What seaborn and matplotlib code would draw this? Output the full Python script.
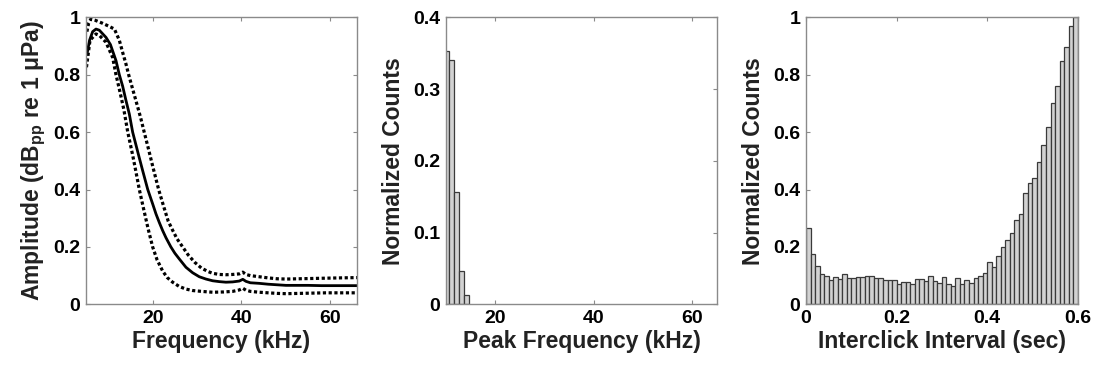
import numpy as np
import pandas as pd
import matplotlib
matplotlib.use("Agg")
import matplotlib.pyplot as plt
import seaborn as sns

# ---------------- data ----------------
# Panel 1: spectrum (mean and +/- bounds)
freq_mean = [5.2, 5.8, 6.5, 7.25, 8.0, 9.5, 10.5, 11.75, 12.5, 13.25, 14.0, 14.75, 15.5, 16.25,
             17.0, 17.75, 18.9, 20.0, 20.75, 21.5, 22.25, 23.0, 24.1, 25.0, 26.0, 27.5, 29.0,
             30.5, 32.0, 33.5, 35.0, 36.5, 38.0, 39.5, 40.3, 41.0, 42.0, 44.0, 46.0, 48.0, 50.0,
             52.0, 55.0, 58.0, 61.0, 64.0, 66.0]
amp_mean = [0.87, 0.92, 0.95, 0.959, 0.955, 0.93, 0.905, 0.849, 0.80, 0.76, 0.71, 0.663, 0.60,
            0.555, 0.51, 0.466, 0.40, 0.35, 0.315, 0.285, 0.257, 0.232, 0.20, 0.178, 0.158, 0.129,
            0.110, 0.096, 0.088, 0.082, 0.079, 0.077, 0.078, 0.081, 0.087, 0.080, 0.075, 0.073,
            0.070, 0.068, 0.066, 0.066, 0.066, 0.065, 0.065, 0.065, 0.065]

freq_upper = [5.2, 5.6, 6.1, 7.0, 8.75, 10.0, 11.4, 12.5, 13.3, 14.0, 14.6, 15.5, 16.5, 17.3,
              18.1, 19.0, 20.0, 21.35, 22.5, 23.5, 24.5, 25.5, 26.75, 28.0, 29.5, 31.0, 32.5,
              33.5, 35.0, 36.5, 38.0, 39.5, 40.3, 41.0, 42.0, 44.0, 46.0, 48.0, 50.0, 53.0, 56.0,
              59.0, 62.0, 66.0]
amp_upper = [0.95, 0.98, 0.994, 0.99, 0.979, 0.97, 0.959, 0.92, 0.875, 0.837, 0.80, 0.75, 0.695,
             0.65, 0.60, 0.545, 0.482, 0.40, 0.34, 0.29, 0.258, 0.228, 0.20, 0.172, 0.146, 0.126,
             0.114, 0.108, 0.104, 0.103, 0.104, 0.106, 0.112, 0.104, 0.100, 0.096, 0.092, 0.089,
             0.088, 0.089, 0.090, 0.091, 0.092, 0.093]

freq_lower = [5.1, 5.9, 7.25, 8.0, 9.5, 11.0, 11.75, 12.5, 13.5, 14.4, 15.5, 16.2, 17.0, 18.0,
              19.0, 20.0, 21.0, 22.25, 23.3, 24.5, 26.0, 27.5, 29.0, 31.0, 33.5, 36.0, 38.0, 39.5,
              40.3, 41.0, 42.0, 44.0, 46.0, 48.0, 50.0, 53.0, 56.0, 59.0, 62.0, 66.0]
amp_lower = [0.826, 0.92, 0.942, 0.937, 0.913, 0.86, 0.80, 0.75, 0.68, 0.60, 0.52, 0.465, 0.40,
             0.33, 0.262, 0.20, 0.155, 0.116, 0.093, 0.077, 0.062, 0.053, 0.048, 0.045, 0.042,
             0.043, 0.045, 0.050, 0.056, 0.049, 0.045, 0.042, 0.040, 0.038, 0.037, 0.038, 0.039,
             0.040, 0.040, 0.040]

# Panel 2: peak frequency histogram
peak_edges = [9.7, 10.7, 11.7, 12.7, 13.7, 14.7]
peak_counts = [0.3535, 0.3405, 0.157, 0.0465, 0.013]

# Panel 3: interclick interval histogram (60 bins, 0..0.6 s)
ici_counts = [0.267, 0.177, 0.134, 0.106, 0.099, 0.085, 0.094, 0.087, 0.105, 0.090,
              0.090, 0.094, 0.094, 0.098, 0.099, 0.092, 0.091, 0.085, 0.083, 0.085,
              0.072, 0.078, 0.078, 0.072, 0.087, 0.087, 0.081, 0.099, 0.082, 0.075,
              0.096, 0.071, 0.064, 0.093, 0.071, 0.085, 0.075, 0.091, 0.100, 0.108,
              0.146, 0.131, 0.170, 0.201, 0.224, 0.250, 0.294, 0.315, 0.387, 0.424,
              0.439, 0.497, 0.556, 0.618, 0.703, 0.761, 0.848, 0.898, 0.970, 1.000]

p1_xticks = [20, 40, 60]
p1_yticks = [0, 0.2, 0.4, 0.6, 0.8, 1]
p1_yticklabels = ["0", "0.2", "0.4", "0.6", "0.8", "1"]
p2_xticks = [20, 40, 60]
p2_yticks = [0, 0.1, 0.2, 0.3, 0.4]
p2_yticklabels = ["0", "0.1", "0.2", "0.3", "0.4"]
p3_xticks = [0, 0.2, 0.4, 0.6]
p3_xticklabels = ["0", "0.2", "0.4", "0.6"]
p3_yticks = [0, 0.2, 0.4, 0.6, 0.8, 1]
p3_yticklabels = ["0", "0.2", "0.4", "0.6", "0.8", "1"]

# ---------------- style ----------------
sns.set_theme(style="white")
plt.rcParams["font.family"] = ["Liberation Sans", "DejaVu Sans"]
plt.rcParams["font.weight"] = "bold"
plt.rcParams["axes.labelweight"] = "bold"
plt.rcParams["mathtext.fontset"] = "custom"
plt.rcParams["mathtext.rm"] = "Liberation Sans:bold"
plt.rcParams["mathtext.bf"] = "Liberation Sans:bold"
plt.rcParams["mathtext.it"] = "Liberation Sans:bold"
plt.rcParams["mathtext.default"] = "bf"

fig = plt.figure(figsize=(10.94, 3.65), dpi=100)
W, H = 1094.0, 365.0
def add_ax(left, right, top=17.3, bottom=304.3):
    return fig.add_axes([left / W, (H - bottom) / H, (right - left) / W, (bottom - top) / H])

ax1 = add_ax(86, 357)
ax2 = add_ax(446, 717)
ax3 = add_ax(806, 1077.7)

frame_col = "#8a8a8a"
bar_fill = "#d2d2d2"
bar_edge = "#3a3a3a"
label_col = "#222222"
TICK_FS = 14
LABEL_FS = 16.5

def style_axes(ax):
    for s in ax.spines.values():
        s.set_visible(True)
        s.set_color(frame_col)
        s.set_linewidth(1.0)
    ax.tick_params(direction="in", length=3, width=0.8, color=frame_col,
                   top=True, right=True, bottom=True, left=True,
                   labelsize=TICK_FS, labelcolor="black", pad=4)
    for lab in ax.get_xticklabels() + ax.get_yticklabels():
        lab.set_fontweight("bold")
    ax.grid(False)

# Panel 1
dot_style = (0, (1.0, 0.8))
sns.lineplot(x=freq_upper, y=amp_upper, ax=ax1, color="black", linewidth=2.3,
             linestyle=dot_style, estimator=None, sort=False)
sns.lineplot(x=freq_lower, y=amp_lower, ax=ax1, color="black", linewidth=2.3,
             linestyle=dot_style, estimator=None, sort=False)
sns.lineplot(x=freq_mean, y=amp_mean, ax=ax1, color="black", linewidth=2.0,
             estimator=None, sort=False)
for ln in ax1.get_lines():
    ln.set_dash_capstyle("butt")
ax1.set_xlim(5, 66)
ax1.set_ylim(0, 1)
ax1.set_xticks(p1_xticks)
ax1.set_yticks(p1_yticks)
ax1.set_yticklabels(p1_yticklabels)
ax1.set_xlabel("Frequency (kHz)", fontsize=LABEL_FS, fontweight="bold", color=label_col, labelpad=2)
ax1.set_ylabel("Amplitude (dB$_{pp}$ re 1 μPa)", fontsize=LABEL_FS, fontweight="bold",
               color=label_col, labelpad=4)
style_axes(ax1)

# Panel 2
peak_df = pd.DataFrame({
    "freq": [(peak_edges[i] + peak_edges[i + 1]) / 2 for i in range(len(peak_counts))],
    "count": peak_counts,
})
sns.histplot(data=peak_df, x="freq", weights="count", bins=peak_edges, ax=ax2,
             color=bar_fill, edgecolor=bar_edge, linewidth=0.9, alpha=1.0)
ax2.set_xlim(10, 65)
ax2.set_ylim(0, 0.4)
ax2.set_xticks(p2_xticks)
ax2.set_yticks(p2_yticks)
ax2.set_yticklabels(p2_yticklabels)
ax2.set_xlabel("Peak Frequency (kHz)", fontsize=LABEL_FS, fontweight="bold", color=label_col, labelpad=2)
ax2.set_ylabel("Normalized Counts", fontsize=LABEL_FS, fontweight="bold", color=label_col, labelpad=6)
style_axes(ax2)

# Panel 3
n_ici = len(ici_counts)
ici_edges = [0.6 * i / n_ici for i in range(n_ici + 1)]
ici_df = pd.DataFrame({
    "ici": [(ici_edges[i] + ici_edges[i + 1]) / 2 for i in range(n_ici)],
    "count": ici_counts,
})
sns.histplot(data=ici_df, x="ici", weights="count", bins=ici_edges, ax=ax3,
             color=bar_fill, edgecolor=bar_edge, linewidth=0.9, alpha=1.0)
ax3.set_xlim(0, 0.6)
ax3.set_ylim(0, 1)
ax3.set_xticks(p3_xticks)
ax3.set_xticklabels(p3_xticklabels)
ax3.set_yticks(p3_yticks)
ax3.set_yticklabels(p3_yticklabels)
ax3.set_xlabel("Interclick Interval (sec)", fontsize=LABEL_FS, fontweight="bold", color=label_col, labelpad=2)
ax3.set_ylabel("Normalized Counts", fontsize=LABEL_FS, fontweight="bold", color=label_col, labelpad=6)
style_axes(ax3)

fig.savefig("out.png", dpi=100, facecolor="white")
